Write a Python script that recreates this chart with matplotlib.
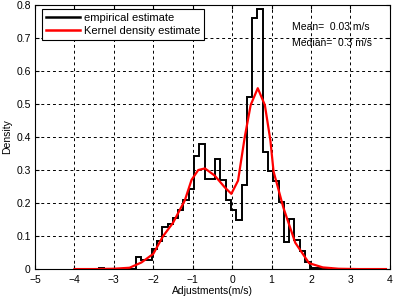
import matplotlib
matplotlib.use('Agg')
import matplotlib.pyplot as plt
import numpy as np

plt.rcParams['font.family'] = ['Liberation Sans', 'DejaVu Sans']

# histogram: bin edges and density per bin
bin_edges = np.round(-0.028 + 0.134 * np.arange(-25, 20), 3)
hist_density = [
    0.004, 0, 0, 0, 0, 0, 0,                    # -3.38 .. -2.44
    0.038, 0.026, 0.026, 0.061, 0.086, 0.128,   # -2.44 .. -1.64
    0.138, 0.154, 0.178, 0.208, 0.243, 0.344,   # -1.64 .. -0.83
    0.378, 0.274, 0.274, 0.334, 0.271, 0.208,   # -0.83 .. -0.03
    0.180, 0.150, 0.254, 0.520, 0.762, 0.787,   # -0.03 .. 0.78
    0.356, 0.298, 0.268, 0.203, 0.081, 0.151,   # 0.78 .. 1.58
    0.088, 0.055, 0.020, 0.004, 0.004, 0.004, 0.004,
]

# kernel density estimate
kde_x = [-4.0, -3.5, -3.0, -2.6, -2.3, -2.0, -1.75, -1.5, -1.2, -1.03,
         -0.86, -0.69, -0.44, -0.19, -0.02, 0.15, 0.32, 0.47, 0.65, 0.83,
         0.97, 1.05, 1.3, 1.6, 1.95, 2.3, 2.7, 3.2, 3.9]
kde_y = [0.0, 0.0, 0.001, 0.004, 0.02, 0.046, 0.10, 0.14, 0.208, 0.27,
         0.30, 0.305, 0.283, 0.248, 0.228, 0.268, 0.40, 0.497, 0.548, 0.497,
         0.39, 0.296, 0.186, 0.08, 0.018, 0.005, 0.001, 0.0, 0.0]

fig = plt.figure(figsize=(3.93, 2.96), dpi=100)
ax = fig.add_axes([0.089, 0.091, 0.903, 0.892])

ax.stairs(hist_density, bin_edges, color='black', linewidth=1.4,
          label='empirical estimate')
ax.plot(kde_x, kde_y, color='red', linewidth=1.6,
        label='Kernel density estimate')

ax.set_xlim(-5, 4)
ax.set_ylim(0, 0.8)
ax.set_xticks(np.arange(-5, 5, 1))
ax.set_yticks(np.arange(0, 0.81, 0.1))
ax.set_yticklabels(['0', '0.1', '0.2', '0.3', '0.4', '0.5', '0.6', '0.7', '0.8'])
ax.grid(True, color='black', linestyle=(0, (3, 3)), linewidth=0.7)
ax.tick_params(direction='in', labelsize=7.5, length=3, top=True, right=True)
ax.tick_params(axis='x', pad=4)
ax.tick_params(axis='y', pad=3)
for s in ax.spines.values():
    s.set_linewidth(0.8)

ax.set_xlabel('Adjustments(m/s)', fontsize=7.5, labelpad=1)
ax.set_ylabel('Density', fontsize=7.5, labelpad=3)

leg = ax.legend(loc='upper left', bbox_to_anchor=(0.02, 0.985), borderaxespad=0,
                fontsize=8, frameon=True, fancybox=False, edgecolor='black',
                framealpha=1, handlelength=3.1, handletextpad=0.3,
                labelspacing=0.25, borderpad=0.35)
leg.get_frame().set_linewidth(0.8)
for line in leg.get_lines():
    line.set_linewidth(1.8)

ax.text(0.724, 0.918, 'Mean=  0.03 m/s', transform=ax.transAxes,
        fontsize=7.5, va='center')
ax.text(0.724, 0.855, 'Median=  0.3 m/s', transform=ax.transAxes,
        fontsize=7.5, va='center')

fig.savefig('out.png', dpi=100)
